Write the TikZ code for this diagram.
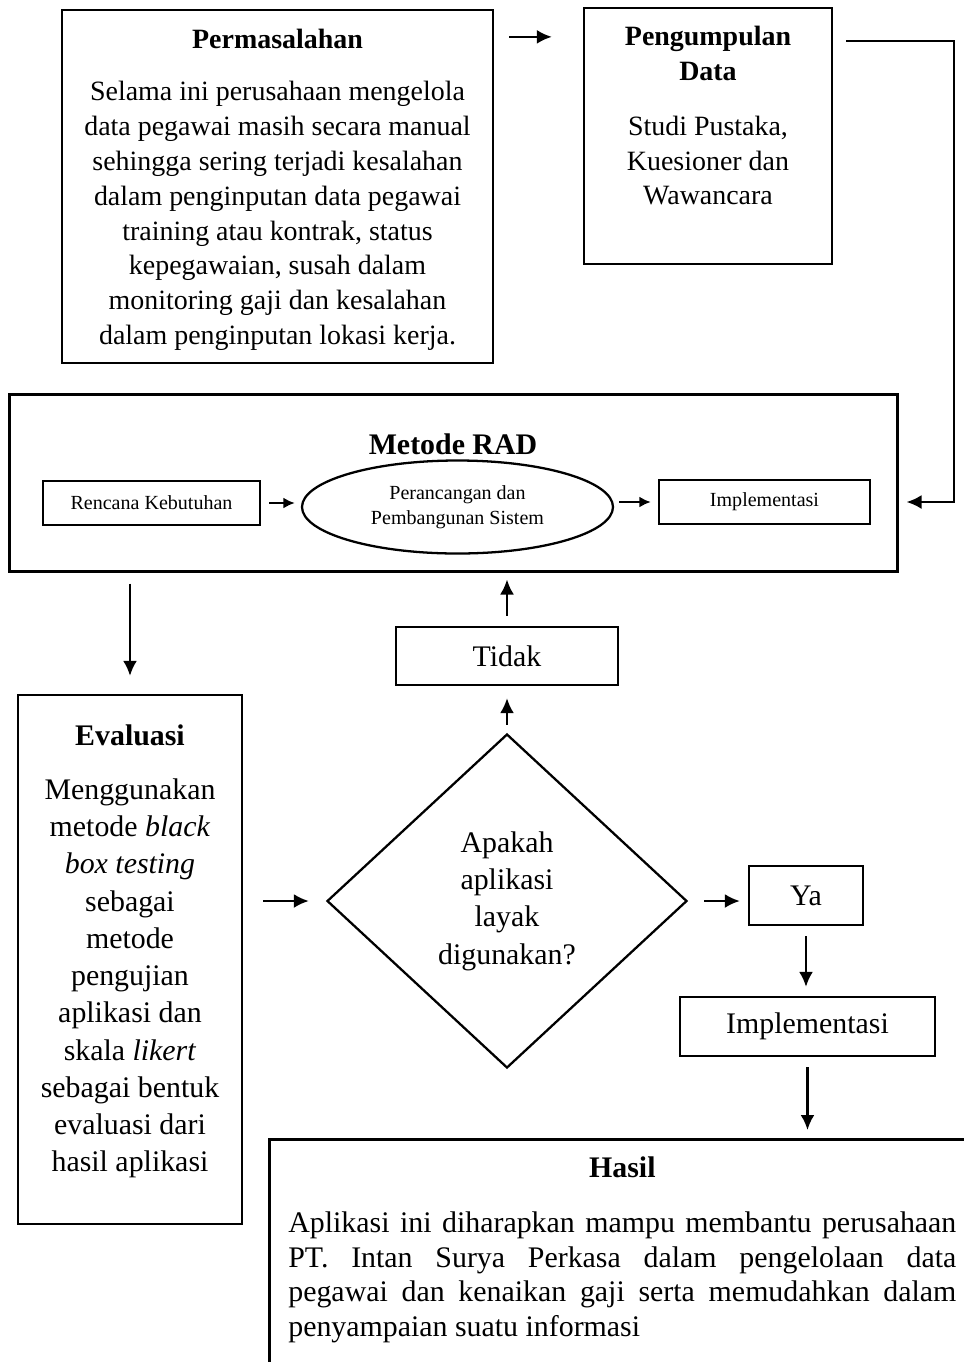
\documentclass[tikz,border=0pt]{standalone}
\usepackage{fontspec}
\setmainfont{Liberation Serif}
\usetikzlibrary{arrows.meta,positioning,shapes.geometric}

\begin{document}
\begin{tikzpicture}[
  x=0.2mm, y=-0.2mm,
  >={Latex[length=3mm,width=2.8mm]},
  block/.style={draw, line width=1.3pt, align=center, inner sep=0pt},
  decision/.style={diamond, draw, line width=1.3pt, align=center, inner sep=0pt, minimum width=72mm, minimum height=66.8mm},
  topfont/.style={font={\fontsize{15.9}{19.8}\selectfont}},
  bigfont/.style={font={\fontsize{17}{21.2}\selectfont}},
  smallfont/.style={font={\fontsize{11.4}{14}\selectfont}},
  link/.style={->, line width=1.4pt},
  slink/.style={-{Latex[length=2.3mm,width=2.2mm]}, line width=1.4pt}
]
\useasboundingbox (0,0) rectangle (964,1362);
\clip (0,0) rectangle (964,1362);

\node[block, minimum width=86.2mm, minimum height=70.6mm] (perm) at (277.5,186.5) {};
\node[topfont, align=center, anchor=north, inner sep=0pt] (permtext) at ([yshift=-4mm]perm.north)
  {\textbf{Permasalahan}\\[10pt]
   Selama ini perusahaan mengelola\\
   data pegawai masih secara manual\\
   sehingga sering terjadi kesalahan\\
   dalam penginputan data pegawai\\
   training atau kontrak, status\\
   kepegawaian, susah dalam\\
   monitoring gaji dan kesalahan\\
   dalam penginputan lokasi kerja.};
\node[block, minimum width=49.6mm, minimum height=51.2mm] (data) at (708,136) {};
\node[topfont, align=center, anchor=north, inner sep=0pt] (datatext) at ([yshift=-3.8mm]data.north)
  {\textbf{Pengumpulan}\\\textbf{Data}\\[11.5pt]
   Studi Pustaka,\\Kuesioner dan\\Wawancara};

\node[block, line width=1.7pt, minimum width=177.4mm, minimum height=35.4mm] (rad) at (453.5,482.5) {};
\node[font={\fontsize{17}{20}\selectfont\bfseries}] (radtitle) at (453,444) {Metode RAD};
\node[block, smallfont, minimum width=43.4mm, minimum height=8.8mm] (renc) at (151.5,503) {Rencana Kebutuhan};
\node[ellipse, draw, line width=1.3pt, smallfont, align=center, minimum width=62.2mm, minimum height=18.6mm] (ell) at (457.5,507) {Perancangan dan\\Pembangunan Sistem};
\node[block, smallfont, minimum width=42.2mm, minimum height=8.8mm] (rimpl) at (764.5,502) {Implementasi};

\node[block, bigfont, minimum width=44.4mm, minimum height=11.6mm] (tidak) at (507,656) {Tidak};
\node[decision, bigfont] (dia) at (507,901) {Apakah\\aplikasi\\layak\\digunakan?};
\node[block, minimum width=44.8mm, minimum height=105.8mm] (eval) at (130,959.5) {};
\node[bigfont, align=center, anchor=north, inner sep=0pt] (evaltext) at ([yshift=-6.1mm]eval.north)
  {\textbf{Evaluasi}\\[9.5pt]
   Menggunakan\\
   metode \textit{black}\\
   \textit{box testing}\\
   sebagai\\
   metode\\
   pengujian\\
   aplikasi dan\\
   skala \textit{likert}\\
   sebagai bentuk\\
   evaluasi dari\\
   hasil aplikasi};
\node[block, bigfont, minimum width=22.8mm, minimum height=11.8mm] (ya) at (806,895.5) {Ya};
\node[block, bigfont, minimum width=51mm, minimum height=11.8mm] (impl) at (807.5,1026.5) {Implementasi};

\node[block, line width=1.7pt, anchor=north west, minimum width=144mm, minimum height=48mm] (hasil) at (268,1138) {};
\node[font={\fontsize{17}{19.7}\selectfont}, anchor=north west, text width=133.6mm, inner sep=0pt, align=justify] (hasiltext) at ([xshift=4mm,yshift=-3.7mm]hasil.north west)
  {\tolerance=9999 {\centering\textbf{Hasil}\par}\vspace{11.5pt}
   \noindent Aplikasi ini diharapkan mampu membantu perusahaan\linebreak
   PT. Intan Surya Perkasa dalam pengelolaan data\linebreak
   pegawai dan kenaikan gaji serta memudahkan dalam\linebreak
   penyampaian suatu informasi\par};

\draw[link, shorten <=3mm, shorten >=6.2mm] ([yshift=-5.6mm]perm.north east) -- ([yshift=-5.6mm]perm.north east -| data.west);
\draw[link, shorten <=2.6mm, shorten >=1.6mm] ([yshift=-6.8mm]data.north east) -- ++(121,0) |- (rimpl.east -| rad.east);
\draw[slink, shorten <=1.6mm, shorten >=1.2mm] (renc.east) -- (renc.east -| ell.west);
\draw[slink, shorten <=1mm, shorten >=1.4mm] (rimpl.west -| ell.east) -- (rimpl.west);
\draw[link, shorten <=2.2mm, shorten >=3.6mm] (eval.north |- rad.south) -- (eval.north);
\draw[link, shorten <=2mm, shorten >=1.4mm] (tidak.north) -- (tidak.north |- rad.south);
\draw[link, shorten <=1.6mm, shorten >=2.4mm] (dia.north) -- (tidak.south);
\draw[link, shorten <=4mm, shorten >=3.4mm] (dia.west -| eval.east) -- (dia.west);
\draw[link, shorten <=3.2mm, shorten >=1.6mm] (dia.east) -- (dia.east -| ya.west);
\draw[link, shorten <=2mm, shorten >=1.8mm] (ya.south) -- (ya.south |- impl.north);
\draw[link, shorten <=2mm, shorten >=1.6mm] (impl.south) -- (impl.south |- hasil.north);
\end{tikzpicture}
\end{document}
